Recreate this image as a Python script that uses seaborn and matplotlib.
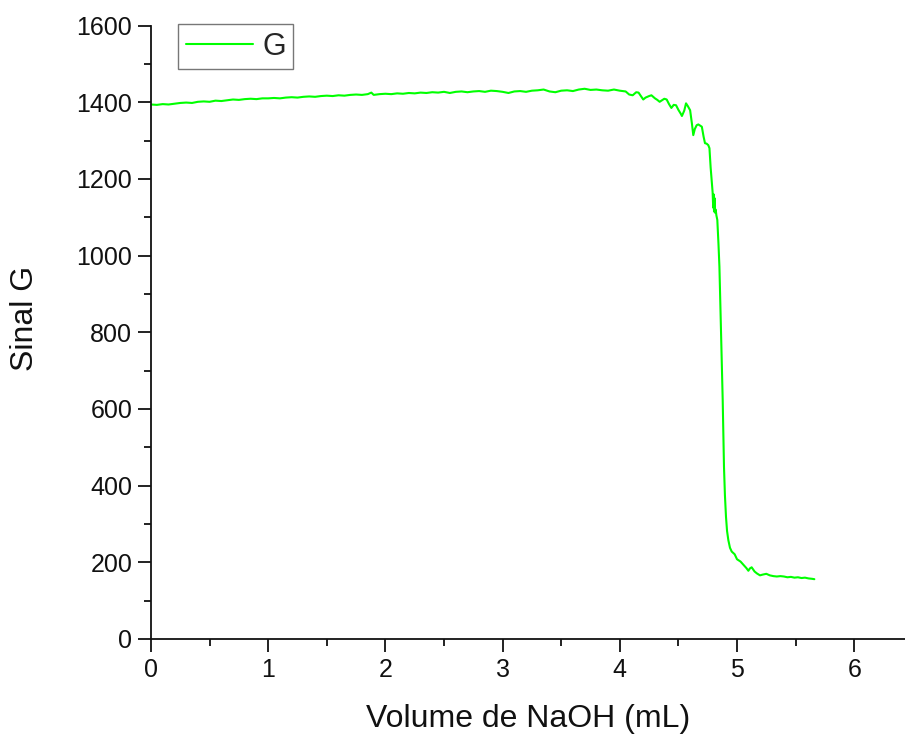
import matplotlib
matplotlib.use("Agg")
import matplotlib.pyplot as plt
from matplotlib.ticker import MultipleLocator
import seaborn as sns
import pandas as pd

# Titration curve: green channel signal versus added NaOH volume
volume_ml = [
    0.00, 0.05, 0.10, 0.15, 0.20, 0.25, 0.30, 0.35, 0.40, 0.45,
    0.50, 0.55, 0.60, 0.65, 0.70, 0.75, 0.80, 0.85, 0.90, 0.95,
    1.00, 1.05, 1.10, 1.15, 1.20, 1.25, 1.30, 1.35, 1.40, 1.45,
    1.50, 1.55, 1.60, 1.65, 1.70, 1.75, 1.80, 1.85, 1.88, 1.90,
    1.95, 2.00, 2.05, 2.10, 2.15, 2.20, 2.25, 2.30, 2.35, 2.40,
    2.45, 2.50, 2.55, 2.60, 2.65, 2.70, 2.75, 2.80, 2.85, 2.90,
    2.95, 3.00, 3.05, 3.10, 3.15, 3.20, 3.25, 3.30, 3.35, 3.40,
    3.45, 3.50, 3.55, 3.60, 3.65, 3.70, 3.75, 3.80, 3.85, 3.90,
    3.95, 4.00, 4.05, 4.08, 4.11, 4.14, 4.16, 4.18, 4.20, 4.22,
    4.25, 4.27, 4.30, 4.32, 4.34, 4.36, 4.38, 4.40, 4.42, 4.44,
    4.46, 4.48, 4.50, 4.52, 4.53, 4.55, 4.565, 4.58, 4.60, 4.615,
    4.627, 4.64, 4.656, 4.67, 4.69, 4.70, 4.715, 4.727, 4.74, 4.755,
    4.765, 4.775, 4.784, 4.792, 4.797, 4.800, 4.804, 4.808, 4.812, 4.818,
    4.824, 4.832, 4.842, 4.850, 4.857, 4.864, 4.871, 4.878, 4.884, 4.889,
    4.897, 4.906, 4.915, 4.926, 4.94, 4.955, 4.97, 4.98, 5.00, 5.03,
    5.06, 5.08, 5.097, 5.11, 5.125, 5.15, 5.17, 5.196, 5.22, 5.25,
    5.28, 5.31, 5.34, 5.37, 5.40, 5.43, 5.46, 5.49, 5.52, 5.55,
    5.58, 5.61, 5.64, 5.66,
]
signal_g = [
    1394, 1393, 1395, 1394, 1396, 1398, 1399, 1398, 1401, 1402,
    1401, 1404, 1403, 1405, 1407, 1406, 1408, 1409, 1408, 1410,
    1410, 1411, 1410, 1412, 1413, 1412, 1414, 1415, 1414, 1416,
    1417, 1416, 1418, 1417, 1419, 1420, 1419, 1421, 1425, 1419,
    1421, 1422, 1421, 1423, 1422, 1424, 1423, 1425, 1424, 1426,
    1425, 1427, 1424, 1427, 1428, 1426, 1428, 1429, 1427, 1430,
    1429, 1427, 1424, 1428, 1429, 1427, 1430, 1431, 1433, 1428,
    1426, 1430, 1431, 1429, 1433, 1435, 1432, 1433, 1431, 1430,
    1433, 1430, 1428, 1420, 1418, 1426, 1425, 1416, 1407, 1412,
    1416, 1418, 1410, 1406, 1401, 1405, 1409, 1407, 1395, 1385,
    1393, 1392, 1380, 1370, 1364, 1378, 1397, 1390, 1379, 1345,
    1314, 1330, 1340, 1342, 1338, 1336, 1310, 1293, 1292, 1288,
    1280, 1230, 1197, 1165, 1125, 1160, 1115, 1150, 1112, 1120,
    1105, 1093, 1030, 971, 880, 797, 710, 623, 530, 449,
    375, 319, 282, 258, 238, 228, 224, 221, 208, 202,
    192, 185, 178, 184, 187, 176, 171, 166, 168, 170,
    166, 164, 163, 164, 163, 161, 162, 160, 161, 159,
    160, 158, 157, 156,
]

x_ticks = [0, 1, 2, 3, 4, 5, 6]
y_ticks = [0, 200, 400, 600, 800, 1000, 1200, 1400, 1600]

sns.set_theme(style="ticks")
plt.rcParams["font.family"] = ["Liberation Sans", "DejaVu Sans"]

df = pd.DataFrame({"Volume": volume_ml, "G": signal_g})

fig = plt.figure(figsize=(9.05, 7.35), dpi=100)
ax = fig.add_axes([151 / 905, 96 / 735, 1 - 151 / 905, 613.5 / 735])

sns.lineplot(data=df, x="Volume", y="G", ax=ax, color="#00ff00",
             linewidth=1.5, label="G", estimator=None, sort=False)

ax.set_xlim(0, 754 / 117.2)
ax.set_ylim(0, 1600)
ax.set_xticks(x_ticks)
ax.set_yticks(y_ticks)
ax.xaxis.set_minor_locator(MultipleLocator(0.5))
ax.yaxis.set_minor_locator(MultipleLocator(100))

for side in ("top", "right"):
    ax.spines[side].set_visible(False)
for side in ("left", "bottom"):
    ax.spines[side].set_linewidth(1.3)
    ax.spines[side].set_color("#111111")

ax.tick_params(axis="both", which="major", direction="out", length=9.5,
               width=1.3, color="#111111", labelsize=18, pad=4,
               labelcolor="#111111")
ax.tick_params(axis="both", which="minor", direction="out", length=5,
               width=1.3, color="#111111")

ax.set_xlabel("Volume de NaOH (mL)", fontsize=23, color="#111111", labelpad=16)
ax.set_ylabel("Sinal G", fontsize=23, color="#111111")
ax.yaxis.set_label_coords(-0.147, 0.522)

leg = ax.legend(loc="upper left", bbox_to_anchor=(178 / 905, 1 - 24 / 735),
                bbox_transform=fig.transFigure, borderaxespad=0,
                fontsize=22, frameon=True, fancybox=False, shadow=False,
                handlelength=2.2, handletextpad=0.3, borderpad=0.25)
leg.get_frame().set_edgecolor("#555555")
leg.get_frame().set_linewidth(1.0)
for line in leg.get_lines():
    line.set_linewidth(1.5)

fig.savefig("out.png", dpi=100, facecolor="white")
